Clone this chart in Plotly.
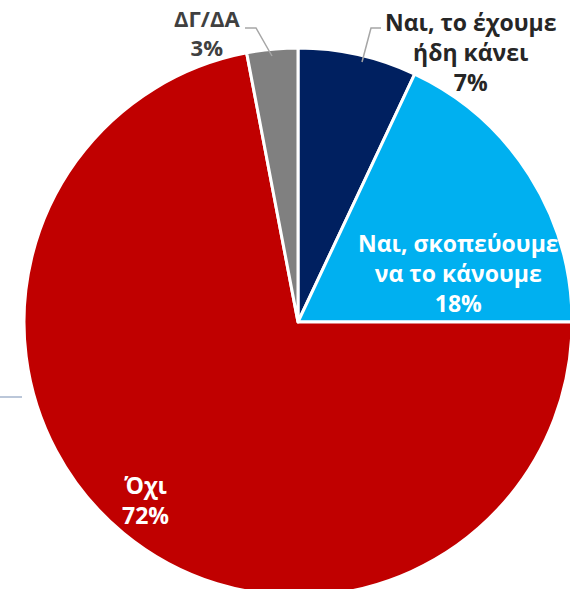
import plotly.graph_objects as go

labels = ["Ναι, το έχουμε<br>ήδη κάνει", "Ναι, σκοπεύουμε<br>να το κάνουμε", "Όχι", "ΔΓ/ΔΑ"]
values = [7, 18, 72, 3]
colors = ["#002060", "#00B0F0", "#C00000", "#808080"]

W, H = 600, 620
cx, cy, r = 298, 322, 274

fig = go.Figure(go.Pie(
    labels=labels, values=values, sort=False, direction="clockwise", rotation=0,
    marker=dict(colors=colors, line=dict(color="white", width=3)),
    textinfo="none", hoverinfo="label+percent", showlegend=False,
    domain=dict(x=[(cx - r) / W, (cx + r) / W], y=[(H - cy - r) / H, (H - cy + r) / H]),
))

FONT = "Open Sans"
def txt(i):
    return f"<b>{labels[i]}<br>{values[i]}%</b>"

def P(x, y):
    return x / W, 1 - y / H

# label positions (screen pixels)
label_pos = [(470, 52, "#262626", 23), (458, 273, "white", 23),
             (145, 500, "white", 23), (207, 32, "#404040", 22)]
for i, (x, y, c, s) in enumerate(label_pos):
    ax, ay = P(x, y)
    fig.add_annotation(x=ax, y=ay, xref="paper", yref="paper", text=txt(i),
                       showarrow=False, font=dict(family=FONT, size=s, color=c),
                       xanchor="center", yanchor="middle", align="center")

def px(x, y):
    a, b = P(x, y)
    return f"{a},{b}"

fig.add_shape(type="path", xref="paper", yref="paper",
              path=f"M{px(245,28)} L{px(256,28)} L{px(272,56)}",
              line=dict(color="#A6A6A6", width=1.5))
fig.add_shape(type="path", xref="paper", yref="paper",
              path=f"M{px(381,28)} L{px(371,28)} L{px(362,62)}",
              line=dict(color="#A6A6A6", width=1.5))
x0, y0 = P(0, 397)
x1, _ = P(22, 397)
fig.add_shape(type="line", xref="paper", yref="paper",
              x0=x0, x1=x1, y0=y0, y1=y0,
              line=dict(color="#A5B4CC", width=1.5))

fig.update_layout(width=W, height=H, margin=dict(l=0, r=0, t=0, b=0),
                  paper_bgcolor="white", plot_bgcolor="white")
fig.write_html("out.html", config={"displayModeBar": False},
               post_script="document.body.style.margin='0';")
